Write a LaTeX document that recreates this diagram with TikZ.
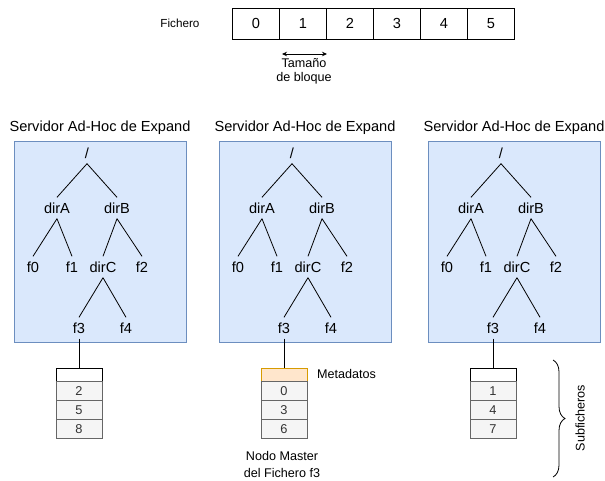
\documentclass[tikz,border=0pt]{standalone}
\usepackage{fontspec}
\setmainfont{Liberation Sans}
\usetikzlibrary{arrows.meta,decorations.pathreplacing}
\definecolor{srvfill}{HTML}{DAE8FC}
\definecolor{srvdraw}{HTML}{6C8EBF}
\definecolor{cellfill}{HTML}{F5F5F5}
\definecolor{celldraw}{HTML}{666666}
\definecolor{celltext}{HTML}{333333}
\definecolor{metafill}{HTML}{FFE6CC}
\definecolor{metadraw}{HTML}{D79B00}
\begin{document}
\begin{tikzpicture}[x=1pt,y=-1pt,
  big/.style={font=\fontsize{14.6}{16}\selectfont},
  small/.style={font=\fontsize{12.6}{14.5}\selectfont},
  block/.style={draw=black, line width=0.8pt, minimum width=47pt, minimum height=31pt, inner sep=0pt, big},
  server/.style={draw=srvdraw, fill=srvfill, line width=0.8pt},
  title/.style={inner sep=0pt, big},
  tnode/.style={inner sep=0pt, minimum height=21pt, big},
  edge/.style={draw=black, line width=0.8pt},
  plainhdr/.style={draw=black, fill=white, line width=0.8pt},
  metahdr/.style={draw=metadraw, fill=metafill, line width=0.8pt},
  hdrcell/.style={minimum width=46pt, minimum height=13.5pt, inner sep=0pt},
  rowcell/.style={draw=celldraw, fill=cellfill, text=celltext, line width=0.8pt,
                  minimum width=46pt, minimum height=19pt, inner sep=0pt,
                  font=\fontsize{12.8}{14}\selectfont},
  note/.style={inner sep=0pt, small, align=center}]
\useasboundingbox (0,0) rectangle (605,480);

% file split into blocks
\node[inner sep=0pt, font=\fontsize{11.7}{13}\selectfont] (fichero) at (180,23) {Fichero};
\foreach \i in {0,...,5} {
  \node[block] (c\i) at ({256+47*\i},23.5) {\i};
}
\coordinate (bsL) at (282,54);
\coordinate (bsR) at (327,54);
\draw[line width=0.8pt, {Stealth[length=5pt,width=4.5pt]}-{Stealth[length=5pt,width=4.5pt]}] (bsL) -- (bsR);
\node[note, font=\fontsize{12.6}{14.5}\selectfont] (bsize) at (304,71.5) {Tamaño\\de bloque};

% one ad-hoc server per column, each with its directory tree and the f3 table
\foreach \bx/\id/\ra/\rb/\rc/\hs in {14/a/2/5/8/plainhdr, 219/b/0/3/6/metahdr, 428/c/1/4/7/plainhdr} {
  \begin{scope}[shift={(\bx,0)}, name prefix=\id-]
    \node[title] (title) at (86,128) {Servidor Ad-Hoc de Expand};
    \draw[server] (0,141) rectangle (172,342);
    \node[tnode] (root) at (73,153) {/};
    \node[tnode] (dirA) at (43,208) {dirA};
    \node[tnode] (dirB) at (103,208) {dirB};
    \node[tnode] (f0) at (19,267) {f0};
    \node[tnode] (f1) at (58,267) {f1};
    \node[tnode] (dirC) at (89,267) {dirC};
    \node[tnode] (f2) at (128,267) {f2};
    \node[tnode] (f3) at (65,328) {f3};
    \node[tnode] (f4) at (112,328) {f4};
    \draw[edge] (root.south) -- (dirA.north);
    \draw[edge] (root.south) -- (dirB.north);
    \draw[edge] (dirA.south) -- (f0.north);
    \draw[edge] (dirA.south) -- (f1.north);
    \draw[edge] (dirB.south) -- (dirC.north);
    \draw[edge] (dirB.south) -- (f2.north);
    \draw[edge] (dirC.south) -- (f3.north);
    \draw[edge] (dirC.south) -- (f4.north);
    \node[hdrcell, \hs] (hd) at (65,374.75) {};
    \node[rowcell] (r1) at (65,391) {\ra};
    \node[rowcell] (r2) at (65,410) {\rb};
    \node[rowcell] (r3) at (65,429) {\rc};
    \draw[edge] (f3.south) -- (hd.north);
  \end{scope}
}

\node[inner sep=0pt, small, anchor=west] (meta) at (317,374) {Metadatos};
\node[note, font=\fontsize{12.6}{17}\selectfont] (master) at (282,464) {Nodo Master\\del Fichero f3};

% brace grouping the sub-files
\coordinate (brT) at (553,360);
\coordinate (brB) at (553,477);
\draw[line width=0.8pt, decorate, decoration={brace, amplitude=12pt}] (brT) -- (brB);
\node[inner sep=0pt, small, rotate=90] (subf) at (580,418) {Subficheros};
\end{tikzpicture}
\end{document}
